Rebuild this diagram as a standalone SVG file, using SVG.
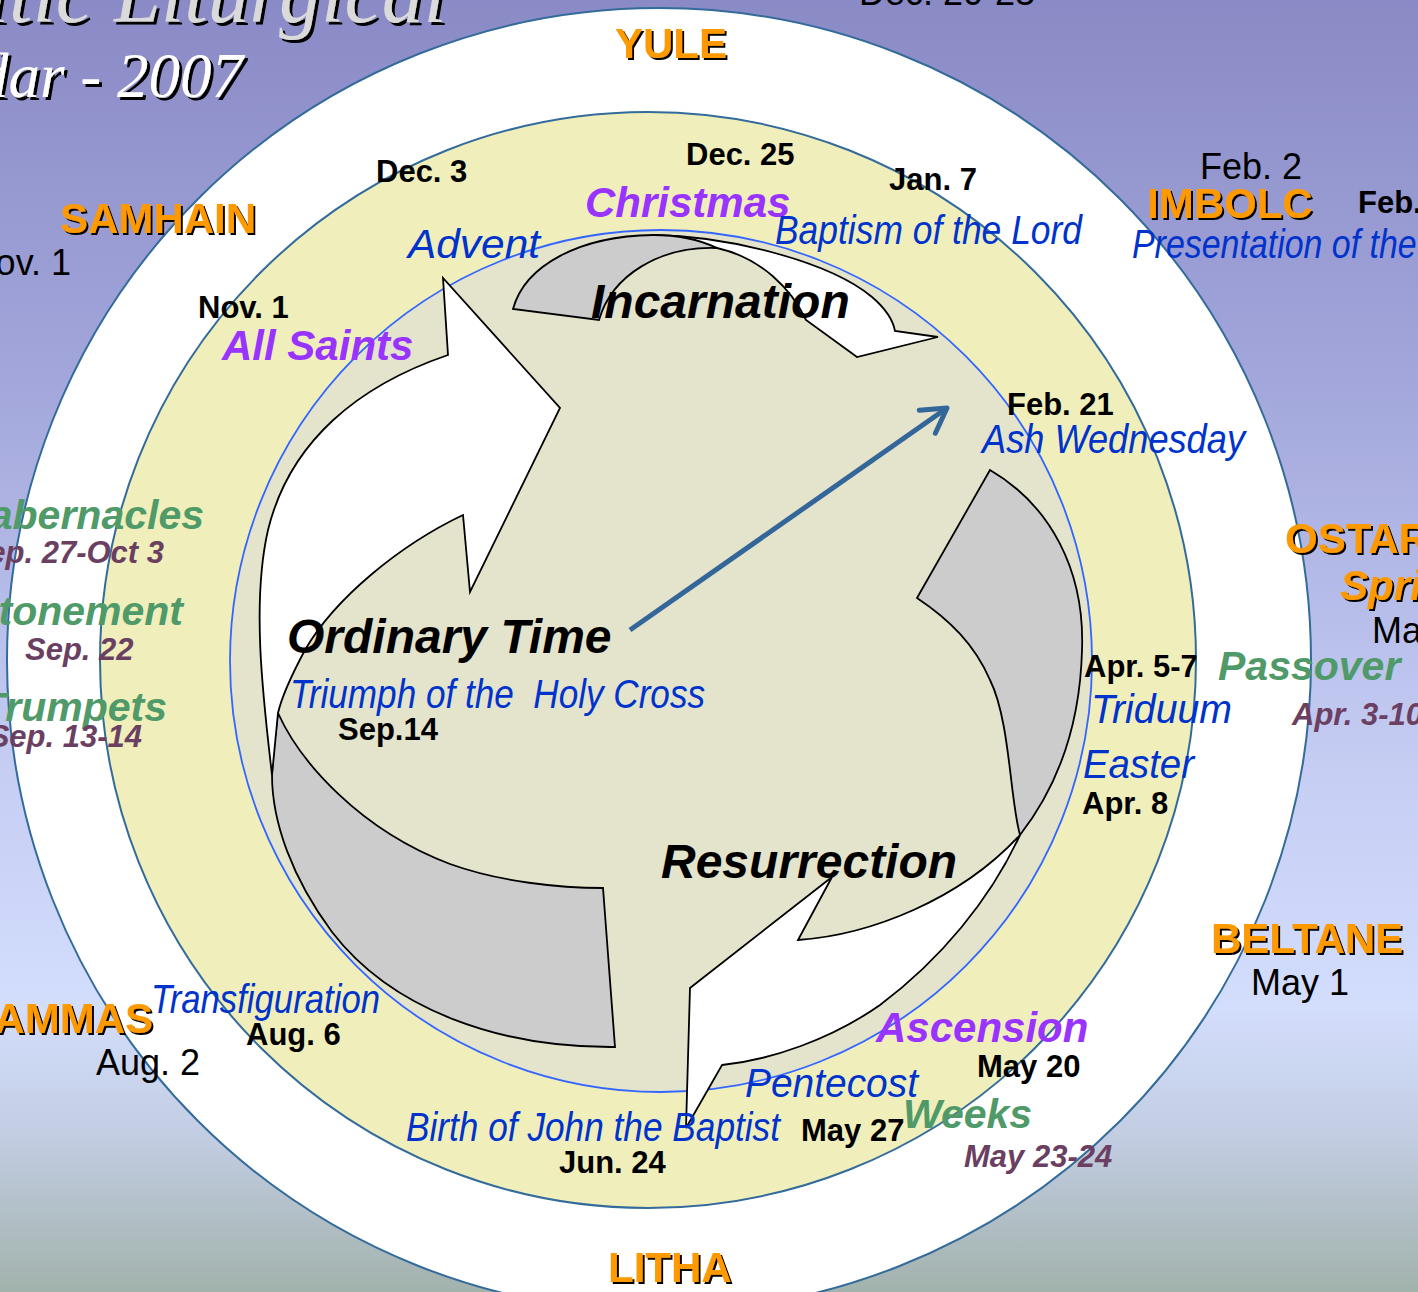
<svg xmlns="http://www.w3.org/2000/svg" width="1418" height="1292" viewBox="0 0 1418 1292">
<defs>
<linearGradient id="bg" x1="0" y1="0" x2="0" y2="1">
<stop offset="0" stop-color="#8A8AC6"/>
<stop offset="0.3" stop-color="#A3A7DB"/>
<stop offset="0.6" stop-color="#C6CEF4"/>
<stop offset="0.78" stop-color="#D3DDFC"/>
<stop offset="0.88" stop-color="#C2CDE2"/>
<stop offset="1" stop-color="#A2B2AC"/>
</linearGradient>
<filter id="sh" x="-10%" y="-20%" width="130%" height="160%">
<feDropShadow dx="2" dy="2" stdDeviation="0.4" flood-color="#000" flood-opacity="1"/>
</filter>
<filter id="tsh" x="-10%" y="-20%" width="130%" height="160%">
<feDropShadow dx="3" dy="3" stdDeviation="0.6" flood-color="#000" flood-opacity="1"/>
</filter>
<marker id="chev" markerUnits="userSpaceOnUse" viewBox="-30 -20 40 40" markerWidth="40" markerHeight="40" refX="0" refY="0" orient="auto" overflow="visible">
<path d="M-24,-14 L0,0 L-24,14" fill="none" stroke="#336699" stroke-width="5" stroke-linecap="round" stroke-linejoin="round"/>
</marker>
<style>
.ring{stroke:#336B9B;stroke-width:2}
.arw{stroke:#000;stroke-width:1.8;stroke-linejoin:miter}
.wh{fill:#FFFFFF}
.gy{fill:#CCCCCC}
text{font-family:"Liberation Sans",Arial,sans-serif}
.sab{font-weight:bold;font-size:42px;fill:#FF9900}
.dt{font-size:36px;fill:#000}
.bd{font-weight:bold;font-size:31px;fill:#000}
.fe{font-style:italic;font-size:40px;fill:#0033CC}
.pu{font-weight:bold;font-style:italic;font-size:42px;fill:#9933FF}
.gr{font-weight:bold;font-style:italic;font-size:41px;fill:#4F9A68}
.pl{font-weight:bold;font-style:italic;font-size:31px;fill:#6B3F62}
.big{font-weight:bold;font-style:italic;font-size:48px;fill:#000}
.ttl{font-family:"Liberation Serif","Times New Roman",serif;font-style:italic}
</style>
</defs>

<rect x="0" y="0" width="1418" height="1292" fill="url(#bg)"/>

<g id="title">
<text class="ttl" x="447" y="22" font-size="84" fill="#DADADA" text-anchor="end" filter="url(#tsh)">Celtic Liturgical</text>
<text class="ttl" x="243" y="97" font-size="63" fill="#FFFFFF" text-anchor="end" filter="url(#tsh)">Calendar - 2007</text>
</g>

<g id="ring-outer"><circle class="ring" cx="659" cy="660" r="652" fill="#FFFFFF"/></g>
<g id="ring-yellow"><circle class="ring" cx="648" cy="660" r="548" fill="#F0EFBB"/></g>
<g id="ring-inner"><circle cx="661" cy="661" r="431" fill="#E4E3CC" stroke="#3366FF" stroke-width="1.8"/></g>

<g id="arrow-incarnation">
<path class="arw wh" d="M653,235 C730,236 830,262 872,297 C886,309 893,320 895,331 L938,337 L857,357 L806,320 C792,290 762,258 717,248 Z"/>
<path class="arw gy" d="M513,309 C525,265 580,236 653,235 C680,235 700,240 717,248 C660,246 612,275 599,320 Z"/>
</g>

<g id="arrow-ordinary">
<path class="arw gy" d="M278,713 C300,762 360,830 450,864 C500,882 560,888 603,888 L615,1047 C500,1048 392,1010 332,932 C292,878 272,822 272,775 C273,750 276,730 278,713 Z"/>
<path class="arw wh" d="M448,355 L443,278 L560,408 L470,592 L463,515 C400,545 335,598 305,650 C290,678 281,700 278,713 C276,735 274,755 272,775 C262,690 252,600 268,530 C290,440 360,385 448,355 Z"/>
</g>

<g id="arrow-resurrection">
<path class="arw gy" d="M990,470 C1050,505 1085,570 1082,650 C1080,730 1055,790 1020,835 C1010,800 1010,720 990,680 C975,645 950,620 917,598 Z"/>
<path class="arw wh" d="M1020,835 C990,900 940,960 880,1005 C830,1040 770,1060 722,1065 L686,1128 L690,988 L832,877 L798,940 C870,935 960,900 1020,835 Z"/>
</g>

<g id="connectors">
<line x1="630" y1="630" x2="947" y2="408" stroke="#336699" stroke-width="5" marker-end="url(#chev)"/>
</g>

<g id="yule">
<text class="dt" x="859" y="5">Dec. 20-23</text>
<text class="sab" x="615" y="58" filter="url(#sh)">YULE</text>
<text class="bd" x="686" y="165">Dec. 25</text>
<text class="pu" x="585" y="217">Christmas</text>
<text class="bd" x="889" y="190">Jan. 7</text>
<text class="fe" x="775" y="244" textLength="307" lengthAdjust="spacingAndGlyphs">Baptism of the Lord</text>
</g>

<g id="imbolc">
<text class="dt" x="1200" y="179">Feb. 2</text>
<text class="sab" x="1147" y="218" filter="url(#sh)">IMBOLC</text>
<text class="bd" x="1358" y="213">Feb. 2</text>
<text class="fe" x="1132" y="258" textLength="362" lengthAdjust="spacingAndGlyphs">Presentation of the Lord</text>
<text class="bd" x="1007" y="415">Feb. 21</text>
<text class="fe" x="982" y="453" textLength="263" lengthAdjust="spacingAndGlyphs">Ash Wednesday</text>
</g>

<g id="ostara">
<text class="sab" x="1285" y="553" filter="url(#sh)">OSTARA</text>
<text class="sab" x="1340" y="600" font-style="italic" filter="url(#sh)">Spring</text>
<text class="dt" x="1372" y="643">Mar. 21</text>
<text class="gr" x="1218" y="680">Passover</text>
<text class="pl" x="1292" y="725">Apr. 3-10</text>
<text class="bd" x="1084" y="677">Apr. 5-7</text>
<text class="fe" x="1091" y="723" textLength="141" lengthAdjust="spacingAndGlyphs">Triduum</text>
<text class="fe" x="1083" y="778" textLength="111" lengthAdjust="spacingAndGlyphs">Easter</text>
<text class="bd" x="1082" y="814">Apr. 8</text>
</g>

<g id="beltane">
<text class="sab" x="1211" y="953" filter="url(#sh)">BELTANE</text>
<text class="dt" x="1251" y="995">May 1</text>
<text class="pu" x="876" y="1042">Ascension</text>
<text class="bd" x="977" y="1077">May 20</text>
<text class="fe" x="745" y="1097" textLength="173" lengthAdjust="spacingAndGlyphs">Pentecost</text>
<text class="gr" x="903" y="1128">Weeks</text>
<text class="pl" x="964" y="1167">May 23-24</text>
<text class="bd" x="801" y="1141">May 27</text>
</g>

<g id="litha">
<text class="fe" x="406" y="1141" textLength="374" lengthAdjust="spacingAndGlyphs">Birth of John the Baptist</text>
<text class="bd" x="559" y="1173">Jun. 24</text>
<text class="sab" x="608" y="1282" filter="url(#sh)">LITHA</text>
</g>

<g id="lammas">
<text class="sab" x="153" y="1033" text-anchor="end" filter="url(#sh)">LAMMAS</text>
<text class="dt" x="96" y="1075">Aug. 2</text>
<text class="fe" x="151" y="1013" textLength="229" lengthAdjust="spacingAndGlyphs">Transfiguration</text>
<text class="bd" x="246" y="1045">Aug. 6</text>
</g>

<g id="autumn">
<text class="gr" x="204" y="529" text-anchor="end" font-size="44">Tabernacles</text>
<text class="pl" x="164" y="563" text-anchor="end" font-size="32">Sep. 27-Oct 3</text>
<text class="gr" x="183" y="625" text-anchor="end">Atonement</text>
<text class="pl" x="25" y="660">Sep. 22</text>
<text class="gr" x="167" y="721" text-anchor="end">Trumpets</text>
<text class="pl" x="142" y="747" text-anchor="end">Sep. 13-14</text>
</g>

<g id="samhain">
<text class="sab" x="60" y="233" filter="url(#sh)">SAMHAIN</text>
<text class="dt" x="71" y="275" text-anchor="end">Nov. 1</text>
<text class="bd" x="376" y="182">Dec. 3</text>
<text class="fe" x="408" y="258" textLength="132" lengthAdjust="spacingAndGlyphs">Advent</text>
<text class="bd" x="198" y="318">Nov. 1</text>
<text class="pu" x="222" y="360">All Saints</text>
</g>

<g id="seasons">
<text class="big" x="591" y="318">Incarnation</text>
<text class="big" x="287" y="653">Ordinary Time</text>
<text class="fe" x="290" y="708" textLength="415" lengthAdjust="spacingAndGlyphs" xml:space="preserve">Triumph of the  Holy Cross</text>
<text class="bd" x="338" y="740">Sep.14</text>
<text class="big" x="661" y="878">Resurrection</text>
</g>
</svg>
